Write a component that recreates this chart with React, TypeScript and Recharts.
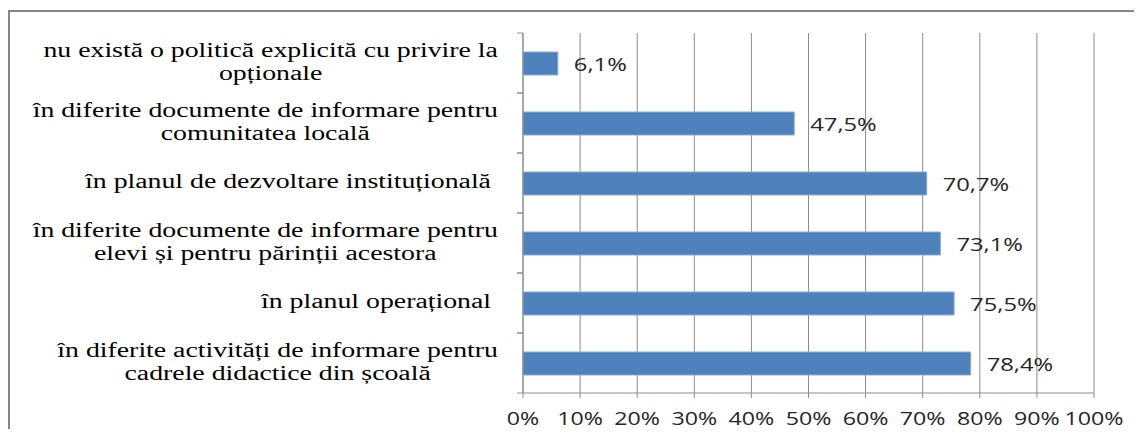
import { BarChart, Bar, XAxis, YAxis, CartesianGrid, LabelList } from 'recharts';

const categories = [
  'nu există o politică explicită cu privire la\nopționale',
  'în diferite documente de informare pentru\ncomunitatea locală',
  'în planul de dezvoltare instituțională ',
  'în diferite documente de informare pentru\nelevi și pentru părinții acestora',
  'în planul operațional ',
  'în diferite activități de informare pentru\ncadrele didactice din școală',
];
const values = [6.1, 47.5, 70.7, 73.1, 75.5, 78.4];
const xTicks = [0, 10, 20, 30, 40, 50, 60, 70, 80, 90, 100];

const data = categories.map((name, i) => ({ name, value: values[i] }));

const SERIF = 'Liberation Serif, Tinos, Times New Roman, DejaVu Serif, serif';
const SANS = 'Open Sans, sans-serif';
const GRID = '#8c8c8c';
const LABEL_SCALE = 1.39;

let ctx: CanvasRenderingContext2D | null = null;
function textWidth(s: string) {
  if (!ctx) ctx = document.createElement('canvas').getContext('2d');
  if (!ctx) return s.length * 8;
  ctx.font = `20px ${SERIF}`;
  return ctx.measureText(s).width;
}

function CategoryTick(props: any) {
  const { x, y, payload } = props;
  const lines = String(payload.value).split('\n');
  const w = Math.max(...lines.map((l) => textWidth(l))) * LABEL_SCALE;
  const cx = x - w / 2;
  const half = payload.offset ?? 30;
  const axisX = x + 25;
  return (
    <g>
      <line x1={axisX - 6} x2={axisX} y1={y - half} y2={y - half} stroke={GRID} />
      <line x1={axisX - 6} x2={axisX} y1={y + half} y2={y + half} stroke={GRID} />
      {lines.map((l, i) => (
        <text
          key={i}
          transform={`translate(${cx},${y + 5 + (i - (lines.length - 1) / 2) * 23}) scale(${LABEL_SCALE},1)`}
          textAnchor="middle"
          fontSize={20}
          fill="#000"
          style={{ whiteSpace: 'pre', fontFamily: SERIF }}
        >
          {l}
        </text>
      ))}
    </g>
  );
}

function PercentTick(props: any) {
  const { x, y, payload } = props;
  return (
    <text
      transform={`translate(${x},${y + 25}) scale(1.29,1)`}
      textAnchor="middle"
      fontSize={18}
      fill="#262626"
      style={{ fontFamily: SANS }}
    >
      {payload.value}%
    </text>
  );
}

function BarValueLabel(props: any) {
  const { x, y, width, height, value } = props;
  const tx = Number(x) + Number(width) + 16;
  const ty = Number(y) + Number(height) / 2 + 7;
  return (
    <text
      transform={`translate(${tx},${ty}) scale(1.25,1)`}
      fontSize={19}
      fill="#262626"
      style={{ fontFamily: SANS }}
    >
      {Number(value).toFixed(1).replace('.', ',')}%
    </text>
  );
}

export default function App() {
  return (
    <div style={{ margin: -8, width: 1142, height: 437, overflow: 'hidden', position: 'relative', background: '#fff' }}>
      <div
        style={{
          position: 'absolute',
          left: 8,
          top: 10,
          width: 1300,
          height: 600,
          borderTop: '2px solid #858585',
          borderLeft: '2px solid #858585',
        }}
      />
      <div style={{ position: 'absolute', left: 0, top: 0 }}>
        <BarChart
          width={1142}
          height={437}
          data={data}
          layout="vertical"
          margin={{ top: 33, right: 48, bottom: 14, left: 0 }}
        >
          <CartesianGrid horizontal={false} stroke={GRID} strokeWidth={1} />
          <XAxis
            type="number"
            domain={[0, 100]}
            ticks={xTicks}
            interval={0}
            height={30}
            axisLine={{ stroke: GRID }}
            tickLine={{ stroke: GRID }}
            tickSize={5}
            tick={<PercentTick />}
          />
          <YAxis
            type="category"
            dataKey="name"
            width={523}
            interval={0}
            axisLine={{ stroke: GRID }}
            tickLine={false}
            tickSize={6}
            tickMargin={19}
            tick={<CategoryTick />}
          />
          <Bar
            dataKey="value"
            fill="#4F81BD"
            stroke="#8aa9d4"
            strokeWidth={1}
            barSize={23}
            isAnimationActive={false}
          >
            <LabelList dataKey="value" content={<BarValueLabel />} />
          </Bar>
        </BarChart>
      </div>
    </div>
  );
}
